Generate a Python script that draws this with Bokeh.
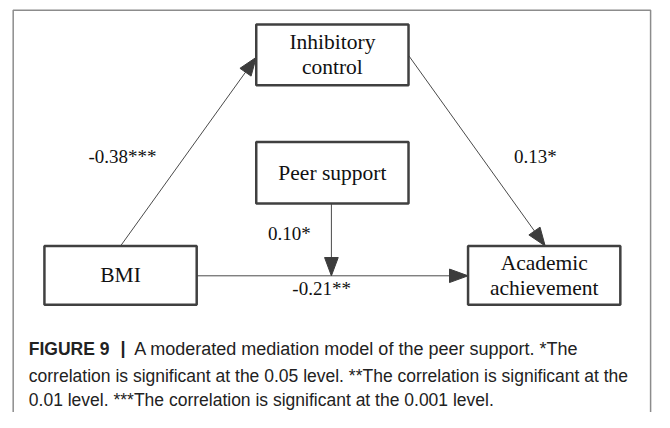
import math
from bokeh.plotting import figure
from bokeh.models import Range1d
from bokeh.core.properties import value
from bokeh.embed import file_html
from bokeh.resources import INLINE

# ---- data ----
node_names = ["BMI", "Inhibitory control", "Peer support", "Academic achievement"]
node_lines = [["BMI"], ["Inhibitory", "control"], ["Peer support"], ["Academic", "achievement"]]
path_from = ["BMI", "Inhibitory control", "BMI", "Peer support"]
path_to = ["Inhibitory control", "Academic achievement", "Academic achievement", "BMI->Academic achievement"]
coefficients = ["-0.38***", "0.13*", "-0.21**", "0.10*"]
caption_head = "FIGURE 9"
caption_lines = [
    "A moderated mediation model of the peer support. *The",
    "correlation is significant at the 0.05 level. **The correlation is significant at the",
    "0.01 level. ***The correlation is significant at the 0.001 level.",
]

# ---- layout (reference pixel coordinates, 670 x 428) ----
boxes = {
    "BMI": (45, 201, 255, 316),
    "Inhibitory control": (262, 418, 25, 88),
    "Peer support": (262, 418, 147, 211),
    "Academic achievement": (479, 635, 255, 316),
}
edge_pts = [
    ((123, 255), (262, 59)),
    ((418, 57), (558, 255)),
    ((201, 286), (479, 286)),
    ((339, 211), (339, 286)),
]
label_pos = [(125, 162), (548, 162), (329, 299), (296, 242)]

W, H = 654, 412
p = figure(width=W, height=H, x_range=Range1d(0, 670), y_range=Range1d(428, 0),
           x_axis_type=None, y_axis_type=None, toolbar_location=None,
           output_backend="svg", min_border=0)
p.grid.visible = False
p.outline_line_color = None
p.background_fill_color = "white"
p.border_fill_color = "white"

# outer frame
p.line([13, 13, 666, 666], [440, 10, 10, 440], line_color="#8c8c8c", line_width=1.5)

# edges
lx, ly = [], []
hx, hy = [], []
HL, HW = 19, 7
for (a, b) in edge_pts:
    lx.append([a[0], b[0]])
    ly.append([a[1], b[1]])
    dx, dy = b[0] - a[0], b[1] - a[1]
    d = math.hypot(dx, dy)
    ux, uy = dx / d, dy / d
    nx, ny = -uy, ux
    bx, by = b[0] - HL * ux, b[1] - HL * uy
    hx.append([b[0], bx + HW * nx, bx - HW * nx])
    hy.append([b[1], by + HW * ny, by - HW * ny])
p.multi_line(lx, ly, line_color="#4a4a4a", line_width=1)
p.patches(hx, hy, fill_color="#3c3c3c", line_color="#3c3c3c", line_width=1)

# boxes
for name in node_names:
    x0, x1, y0, y1 = boxes[name]
    p.quad(left=x0, right=x1, top=y0, bottom=y1, fill_color="white",
           line_color="#404040", line_width=2.5)

# node labels
tx, ty, tt = [], [], []
for name, lines in zip(node_names, node_lines):
    x0, x1, y0, y1 = boxes[name]
    cx, cy = (x0 + x1) / 2, (y0 + y1) / 2
    n = len(lines)
    for i, s in enumerate(lines):
        tx.append(cx)
        ty.append(cy + (i - (n - 1) / 2) * 26)
        tt.append(s)
p.text(tx, ty, text=tt, text_font=value("Liberation Serif"), text_font_size="21.5px",
       text_align="center", text_baseline="middle", text_color="#111111")

# coefficient labels
p.text([q[0] for q in label_pos], [q[1] for q in label_pos], text=coefficients,
       text_font=value("Liberation Serif"), text_font_size="19px",
       text_align="center", text_baseline="middle", text_color="#111111")

# caption
p.text([29], [362], text=[caption_head], text_font=value("Liberation Sans"),
       text_font_size="17.5px", text_font_style="bold", text_align="left",
       text_baseline="middle", text_color="#222222")
p.text([123], [361], text=["|"], text_font=value("Liberation Sans"),
       text_font_size="18px", text_font_style="bold", text_align="left",
       text_baseline="middle", text_color="#222222")
p.text([137], [362], text=[caption_lines[0]], text_font=value("Liberation Sans"),
       text_font_size="18px", text_align="left", text_baseline="middle",
       text_color="#222222")
p.text([29, 29], [390, 415], text=caption_lines[1:], text_font=value("Liberation Sans"),
       text_font_size="17.5px", text_align="left", text_baseline="middle",
       text_color="#222222")

open("out.html", "w").write(file_html(p, INLINE))
